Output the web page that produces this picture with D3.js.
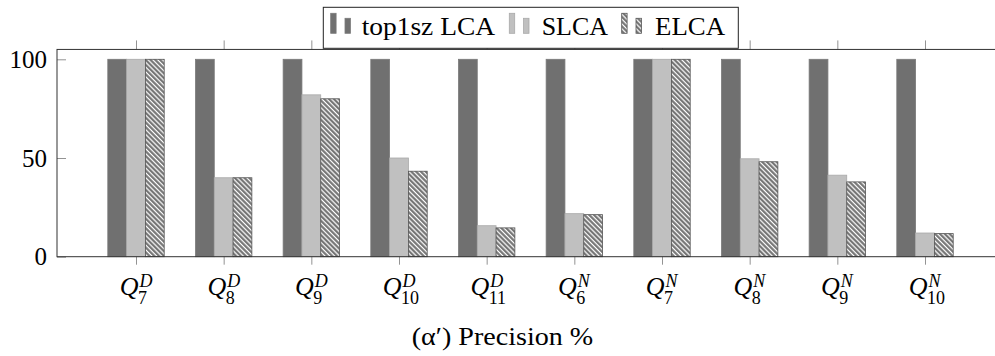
<!DOCTYPE html>
<html>
<head>
<meta charset="utf-8">
<script src="https://cdn.jsdelivr.net/npm/d3@7"></script>
</head>
<body style="margin:0">
<script>
const FRAME_WIDTH = 995;
const FRAME_HEIGHT = 356;
const FONT = 'Liberation Serif';

// data
const CATEGORIES = ['Q7D', 'Q8D', 'Q9D', 'Q10D', 'Q11D', 'Q6N', 'Q7N', 'Q8N', 'Q9N', 'Q10N'];
const LABEL_SUB = ['7', '8', '9', '10', '11', '6', '7', '8', '9', '10'];
const LABEL_SUP = ['D', 'D', 'D', 'D', 'D', 'N', 'N', 'N', 'N', 'N'];
const SERIES = ['top1sz LCA', 'SLCA', 'ELCA'];
const TOP1SZ_LCA = [100, 100, 100, 100, 100, 100, 100, 100, 100, 100];
const SLCA = [100, 40, 82, 50, 15.7, 21.8, 100, 49.6, 41.3, 12];
const ELCA = [100, 40, 80, 43.3, 14.6, 21.3, 100, 48.1, 37.9, 11.7];
const Y_TICKS = [0, 50, 100];
const CAPTION = '(α′) Precision %';

const SERIES_VALUES = [TOP1SZ_LCA, SLCA, ELCA];

const FRAME = d3.select('body')
    .append('svg')
        .attr('width', FRAME_WIDTH)
        .attr('height', FRAME_HEIGHT)
        .attr('font-family', FONT);

const AX_LEFT = 57;
const AX_RIGHT = 1004;
const AX_BOTTOM = 256.7;
const Y_SCALE = d3.scaleLinear()
    .domain([0, 100])
    .range([AX_BOTTOM, 59.3]);
const AX_TOP = Y_SCALE(105);

const X_SCALE = d3.scalePoint()
    .domain(CATEGORIES)
    .range([136, 925]);

const SUB_SCALE = d3.scaleBand()
    .domain(SERIES)
    .range([-28.2, 28.2]);

// text first, before any other marks
// y tick labels
FRAME.append('g')
    .selectAll('text')
    .data(Y_TICKS)
    .enter()
    .append('text')
        .attr('x', AX_LEFT - 10)
        .attr('y', d => Y_SCALE(d))
        .attr('dy', '0.34em')
        .attr('text-anchor', 'end')
        .attr('font-size', 25)
        .text(d => d);

// x tick labels  Q_sub^sup, anchored around the tick
const LABELS = FRAME.append('g')
    .selectAll('g')
    .data(CATEGORIES)
    .enter()
    .append('g')
        .attr('transform', d => 'translate(' + X_SCALE(d) + ',0)');
LABELS.append('text')
    .attr('x', 2.5)
    .attr('y', 295)
    .attr('text-anchor', 'end')
    .attr('font-size', 26)
    .attr('font-style', 'italic')
    .text('Q');
LABELS.append('text')
    .attr('x', 3.5)
    .attr('y', 286.5)
    .attr('font-size', 18)
    .attr('font-style', 'italic')
    .text((d, i) => LABEL_SUP[i]);
LABELS.append('text')
    .attr('x', 2)
    .attr('y', 303.5)
    .attr('font-size', 18)
    .text((d, i) => LABEL_SUB[i]);

// caption
FRAME.append('text')
    .attr('x', 411.7)
    .attr('y', 345)
    .attr('textLength', 181.6)
    .attr('lengthAdjust', 'spacingAndGlyphs')
    .attr('font-size', 26)
    .text(CAPTION);

// hatch for the third series
const defs = FRAME.append('defs');
const pat = defs.append('pattern')
    .attr('id', 'hatch')
    .attr('patternUnits', 'userSpaceOnUse')
    .attr('width', 3.4)
    .attr('height', 3.4)
    .attr('patternTransform', 'rotate(-45)');
pat.append('rect')
    .attr('width', 3.4)
    .attr('height', 3.4)
    .attr('fill', '#6e6e6e');
pat.append('line')
    .attr('x1', 1.2).attr('y1', 0)
    .attr('x2', 1.2).attr('y2', 3.4)
    .attr('stroke', '#fff')
    .attr('stroke-width', 1.3);

const FILLS = ['#707070', '#c0c0c0', 'url(#hatch)'];
const STROKES = ['#7a7a7a', '#a9a9a9', '#555'];

// bars
SERIES.forEach((s, si) => {
    FRAME.append('g')
        .selectAll('rect')
        .data(CATEGORIES)
        .enter()
        .append('rect')
            .attr('x', d => X_SCALE(d) + SUB_SCALE(s))
            .attr('y', (d, i) => Y_SCALE(SERIES_VALUES[si][i]))
            .attr('width', SUB_SCALE.bandwidth())
            .attr('height', (d, i) => Y_SCALE(0) - Y_SCALE(SERIES_VALUES[si][i]))
            .attr('fill', FILLS[si])
            .attr('stroke', STROKES[si])
            .attr('stroke-width', 0.8);
});

// axes: tick marks only, labels drawn above, frame drawn separately
const tickStyle = g => {
    g.select('.domain').remove();
    g.attr('font-family', null);
    g.selectAll('.tick text').remove();
    g.selectAll('.tick line').attr('stroke', '#777').attr('stroke-width', 0.8);
};

FRAME.append('g')
    .attr('transform', 'translate(' + AX_LEFT + ',0)')
    .call(d3.axisLeft(Y_SCALE).tickValues(Y_TICKS).tickSizeInner(-9).tickSizeOuter(0))
    .call(tickStyle);

FRAME.append('g')
    .attr('transform', 'translate(' + AX_RIGHT + ',0)')
    .call(d3.axisRight(Y_SCALE).tickValues(Y_TICKS).tickSizeInner(-9).tickSizeOuter(0))
    .call(tickStyle);

FRAME.append('g')
    .attr('transform', 'translate(0,' + AX_BOTTOM + ')')
    .call(d3.axisBottom(X_SCALE).tickSize(8))
    .call(tickStyle);

FRAME.append('g')
    .attr('transform', 'translate(0,' + AX_TOP + ')')
    .call(d3.axisTop(X_SCALE).tickSize(9))
    .call(tickStyle);

// frame
FRAME.append('rect')
    .attr('x', AX_LEFT)
    .attr('y', AX_TOP)
    .attr('width', AX_RIGHT - AX_LEFT)
    .attr('height', AX_BOTTOM - AX_TOP)
    .attr('fill', 'none')
    .attr('stroke', '#333')
    .attr('stroke-width', 1);

// legend
const LEG = FRAME.append('g');
LEG.append('rect')
    .attr('x', 323.3)
    .attr('y', 7.3)
    .attr('width', 415)
    .attr('height', 41)
    .attr('fill', '#fff')
    .attr('stroke', '#222')
    .attr('stroke-width', 1);

const LEG_ICON_X = [330.7, 509.3, 621.7];
const LEG_TEXT_X = [361.7, 541.7, 655];
const LEG_TEXT_W = [133.3, 66.3, 70];
SERIES.forEach((s, si) => {
    const ix = LEG_ICON_X[si];
    LEG.append('rect')
        .attr('x', ix).attr('y', 13.3)
        .attr('width', 5.4).attr('height', 20)
        .attr('fill', FILLS[si]).attr('stroke', STROKES[si]).attr('stroke-width', 0.8);
    LEG.append('rect')
        .attr('x', ix + 14.3).attr('y', 18.3)
        .attr('width', 5.4).attr('height', 15)
        .attr('fill', FILLS[si]).attr('stroke', STROKES[si]).attr('stroke-width', 0.8);
    LEG.append('text')
        .attr('x', LEG_TEXT_X[si])
        .attr('y', 35)
        .attr('textLength', LEG_TEXT_W[si])
        .attr('lengthAdjust', 'spacingAndGlyphs')
        .attr('font-size', 26)
        .text(s);
});
</script>
</body>
</html>
